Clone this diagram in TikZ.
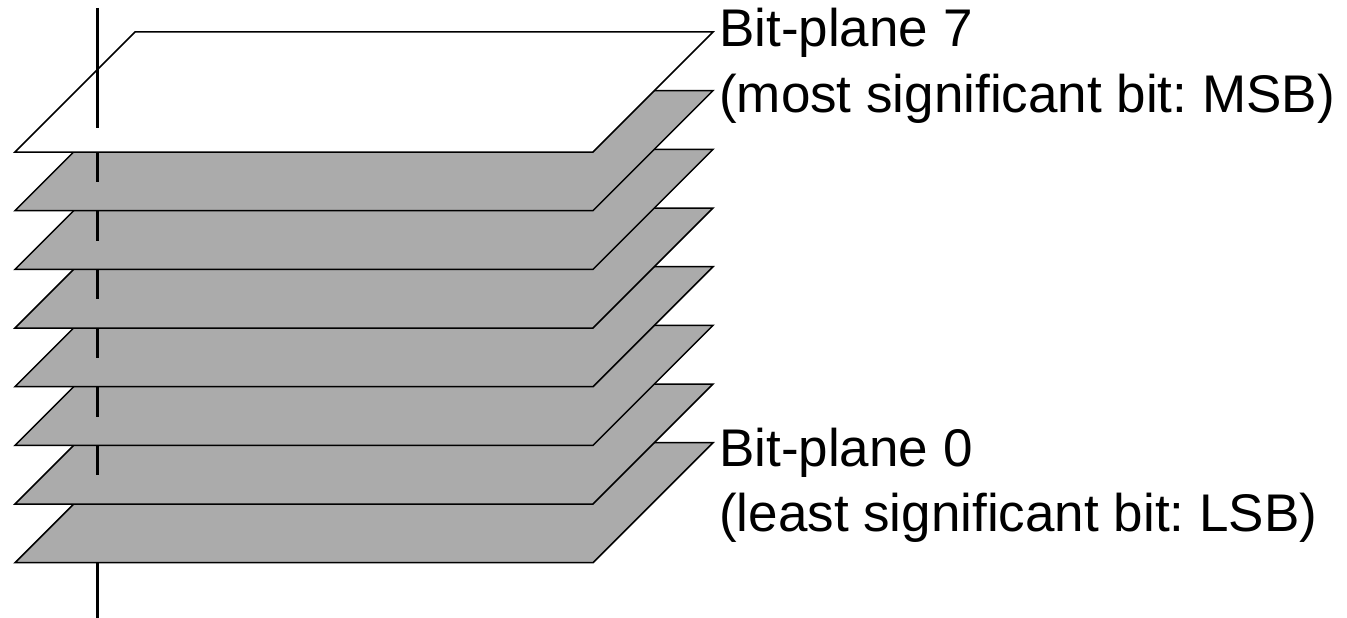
\documentclass[tikz,border=0pt]{standalone}
\usepackage{fontspec}
\setmainfont{Liberation Sans}
\frenchspacing
\definecolor{planegray}{RGB}{171,171,171}
\tikzset{
  plane/.style={draw=black, line width=1.5pt, line join=miter, fill=planegray},
  topplane/.style={plane, fill=white},
  axisline/.style={draw=black, line width=3pt},
  lbl/.style={anchor=base west, inner sep=0pt, font=\fontsize{53}{64}\selectfont}
}
\begin{document}
\begin{tikzpicture}[x=1pt,y=-1pt]
\useasboundingbox (0,0) rectangle (1347,618);
% planes from bottom (0) to top (7)
\foreach \i in {0,...,6} {
  \pgfmathsetmacro{\t}{32+(7-\i)*58.67}
  \path[plane] (135,\t) -- (713,\t) -- (593,\t+120) -- (15,\t+120) -- cycle;
}
\path[topplane] (135,32) -- (713,32) -- (593,152) -- (15,152) -- cycle;
% vertical axis segments
\coordinate (axtop) at (97,8);
\coordinate (axtopend) at (97,128);
\draw[axisline] (axtop) -- (axtopend);
\foreach \k in {0,...,5} {
  \pgfmathsetmacro{\b}{152+\k*58.67}
  \draw[axisline] (97,\b) -- (97,\b+30);
}
\coordinate (axbot) at (97,563);
\coordinate (axbotend) at (97,618);
\draw[axisline] (axbot) -- (axbotend);
% labels
\node[lbl] (l7a) at (719,47) {Bit-plane 7};
\node[lbl] (l7b) at (719,112) {(most significant bit: MSB)};
\node[lbl] (l0a) at (719,466) {Bit-plane 0};
\node[lbl] (l0b) at (719,531) {(least significant bit: LSB)};
\end{tikzpicture}
\end{document}
